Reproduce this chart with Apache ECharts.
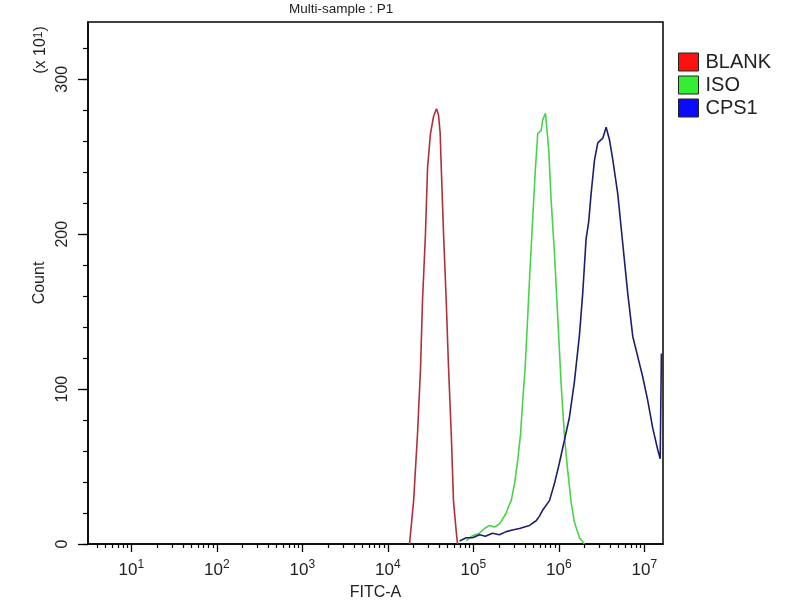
<!DOCTYPE html>
<html>
<head>
<meta charset="utf-8">
<script src="https://cdn.jsdelivr.net/npm/echarts@6/dist/echarts.min.js"></script>
<style>
html,body{margin:0;padding:0;background:#fff;}
#chart{width:800px;height:600px;}
</style>
</head>
<body>
<div id="chart"></div>
<script>
// ---- data (FITC-A values and counts, counts in units of 10^1) ----
const BLANK_X = [17900, 20000, 22200, 24100, 25400, 27500, 29100, 31500, 34200, 37000, 39100, 40900, 42100, 44800, 48100, 51200, 55100, 58500, 63000, 65200];
const BLANK_Y = [0, 28, 71, 114, 157, 200, 243, 265, 276, 281, 277, 265, 243, 200, 157, 114, 71, 28, 8, 0];

const ISO_X = [82400, 95000, 118000, 135000, 154000, 177000, 202000, 219000, 242000, 257000, 277000, 303000, 330000, 356000, 378000, 403000, 432000, 461000, 495000, 532000, 566000, 621000, 648000, 697000, 721000, 762000, 811000, 887000, 970000, 1060000, 1160000, 1270000, 1390000, 1520000, 1740000, 1990000];
const ISO_Y = [2, 5, 7, 10, 12, 11, 13, 16, 20, 24, 28, 39, 54, 71, 93, 114, 147, 179, 211, 243, 265, 267, 274, 278, 269, 254, 222, 188, 146, 104, 70, 47, 27, 14, 4, 0];

const CPS1_X = [68800, 82400, 97700, 118000, 138000, 167000, 202000, 242000, 286000, 346000, 395000, 453000, 542000, 593000, 648000, 776000, 887000, 1010000, 1160000, 1330000, 1520000, 1740000, 1900000, 2080000, 2230000, 2380000, 2610000, 2850000, 3260000, 3570000, 3900000, 4270000, 4880000, 5580000, 6380000, 7310000, 8360000, 9550000, 10900000, 12500000, 14300000, 15300000, 15800000];
const CPS1_Y = [2, 4, 4, 6, 5, 7, 6, 8, 9, 10, 11, 12, 15, 18, 22, 28, 39, 52, 67, 82, 105, 135, 162, 197, 208, 226, 248, 259, 262, 269, 261, 248, 226, 194, 162, 134, 121, 108, 93, 75, 61, 55, 123];

const SERIES_NAMES = ['BLANK', 'ISO', 'CPS1'];
const X_MAJOR_TICKS = [10, 100, 1000, 10000, 100000, 1000000, 10000000];
const X_MINOR_MULT = [2, 3, 4, 5, 6, 7, 8, 9];
const X_MINOR_DECADES = [1, 10, 100, 1000, 10000, 100000, 1000000];
const Y_MAJOR_TICKS = [0, 100, 200, 300];
const Y_MINOR_TICKS = [0, 20, 40, 60, 80, 100, 120, 140, 160, 180, 200, 220, 240, 260, 280, 300, 320];
const X_MIN = 3.11, X_MAX = 16500000;
const Y_MIN = 0, Y_MAX = 337;

const FONT = '"Liberation Sans", Arial, sans-serif';
const TXT = '#222';
const LINE_COLORS = ['#b0303a', '#48d448', '#1e1e6e'];
const LEGEND_COLORS = ['#ff1010', '#33ee33', '#0a0aff'];

const xMinor = [];
X_MINOR_DECADES.forEach(d => X_MINOR_MULT.forEach(m => {
  const v = d * m;
  if (v > X_MIN && v < X_MAX) xMinor.push(v);
}));

function pairs(xs, ys) { return xs.map((x, i) => [x, ys[i]]); }
const seriesData = [pairs(BLANK_X, BLANK_Y), pairs(ISO_X, ISO_Y), pairs(CPS1_X, CPS1_Y)];

const chart = echarts.init(document.getElementById('chart'), null, {renderer: 'canvas'});
const supRich = {
  b: {fontSize: 17, fontFamily: FONT, color: TXT, lineHeight: 20, verticalAlign: 'bottom'},
  s: {fontSize: 12, fontFamily: FONT, color: TXT, lineHeight: 12, verticalAlign: 'top'}
};

const option = {
  animation: false,
  backgroundColor: '#fff',
  textStyle: {fontFamily: FONT},
  title: {
    text: 'Multi-sample : P1',
    left: 289, top: 2, padding: 0,
    textStyle: {fontSize: 13.5, fontWeight: 'normal', color: TXT, fontFamily: FONT}
  },
  legend: {
    orient: 'vertical', left: 678, top: 52, padding: 0,
    icon: 'rect', itemWidth: 20, itemHeight: 18, itemGap: 3,
    textStyle: {fontSize: 20, color: TXT, fontFamily: FONT, padding: [0, 0, 0, 2]},
    itemStyle: {borderColor: '#222', borderWidth: 1},
    data: SERIES_NAMES.map((n, i) => ({name: n, itemStyle: {color: LEGEND_COLORS[i], borderColor: '#222', borderWidth: 1}})),
    selectedMode: false
  },
  grid: {left: 88, right: 137, top: 22, bottom: 56, show: true, borderColor: '#000', borderWidth: 1.5,
         containLabel: false, outerBoundsMode: 'none'},
  xAxis: [{
    type: 'log', logBase: 10, min: X_MIN, max: X_MAX,
    name: 'FITC-A', nameLocation: 'middle', nameGap: 41,
    nameTextStyle: {fontSize: 16, color: TXT, fontFamily: FONT},
    axisLine: {show: true, lineStyle: {color: '#000', width: 1.5}},
    axisTick: {show: true, customValues: X_MAJOR_TICKS, length: 8, lineStyle: {color: '#000', width: 1.3}},
    axisLabel: {
      show: true, customValues: X_MAJOR_TICKS, margin: 15,
      formatter: v => '{b|10}{s|' + Math.round(Math.log10(v)) + '}',
      rich: supRich
    },
    splitLine: {show: false}, minorTick: {show: false}
  }, {
    type: 'log', logBase: 10, min: X_MIN, max: X_MAX, position: 'bottom', gridIndex: 0,
    axisLine: {show: false},
    axisTick: {show: true, customValues: xMinor, length: 4, lineStyle: {color: '#000', width: 1.2}},
    axisLabel: {show: false}, splitLine: {show: false}
  }],
  yAxis: [{
    type: 'value', min: Y_MIN, max: Y_MAX,
    name: 'Count', nameLocation: 'middle', nameGap: 32, nameRotate: 90,
    nameTextStyle: {fontSize: 16, color: TXT, fontFamily: FONT},
    axisLine: {show: true, lineStyle: {color: '#000', width: 1.5}},
    axisTick: {show: true, customValues: Y_MINOR_TICKS, length: 5, lineStyle: {color: '#000', width: 1.2}},
    axisLabel: {show: true, customValues: Y_MAJOR_TICKS, rotate: 90, margin: 17, fontSize: 16, color: TXT, fontFamily: FONT},
    splitLine: {show: false}
  }, {
    type: 'value', min: Y_MIN, max: Y_MAX, position: 'left', offset: 0, gridIndex: 0,
    axisLine: {show: false},
    axisTick: {show: true, customValues: Y_MAJOR_TICKS, length: 10, lineStyle: {color: '#000', width: 1.3}},
    axisLabel: {show: false}, splitLine: {show: false}
  }],
  graphic: [{
    type: 'text', x: 41, y: 50, rotation: Math.PI / 2,
    style: {
      text: '(x 10{s|1})', align: 'center', verticalAlign: 'middle',
      fontSize: 16, fontFamily: FONT, fill: TXT,
      rich: {s: {fontSize: 12, fontFamily: FONT, color: TXT, verticalAlign: 'top', lineHeight: 12}}
    }
  }],
  series: SERIES_NAMES.map((n, i) => ({
    name: n, type: 'line', xAxisIndex: 0, yAxisIndex: 0,
    data: seriesData[i], showSymbol: false, symbol: 'none', silent: true,
    lineStyle: {color: LINE_COLORS[i], width: 1.6},
    itemStyle: {color: LEGEND_COLORS[i]}
  }))
};
chart.setOption(option);
</script>
</body>
</html>
